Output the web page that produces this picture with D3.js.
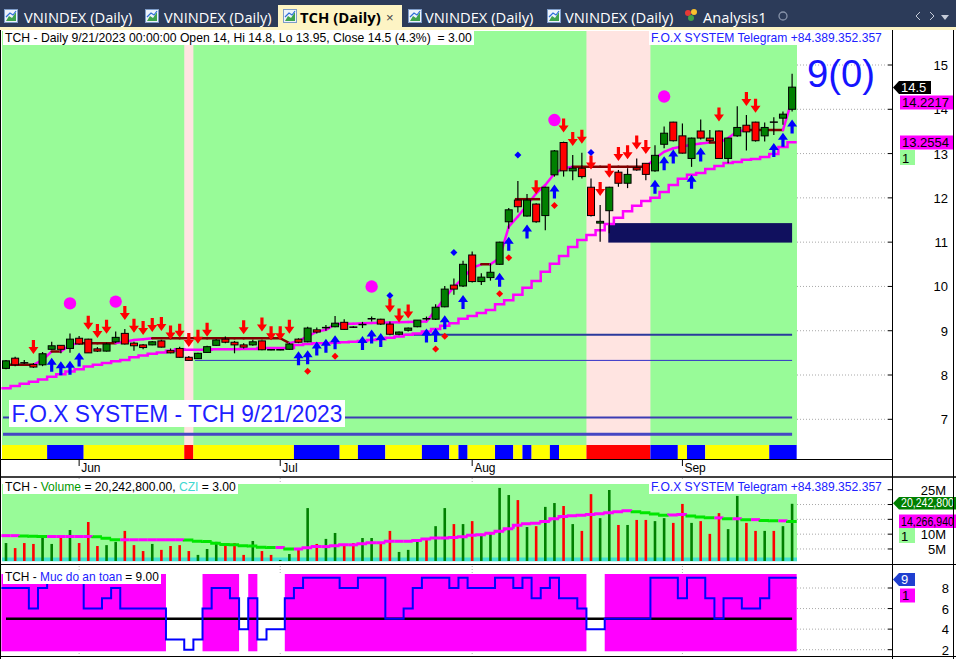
<!DOCTYPE html>
<html>
<head>
<meta charset="utf-8">
<title>TCH Daily</title>
<script src="https://cdn.jsdelivr.net/npm/d3@7/dist/d3.min.js"></script>
<style>
  body { margin: 0; background: #fff; overflow: hidden; }
  svg { display: block; font-family: "Liberation Sans", Arial, sans-serif; }
  text { white-space: pre; }
</style>
</head>
<body>
<script>
// ---- price data (TCH daily, 22 May - 21 Sep 2023) ----
var open = [
  8.15, 8.38, 8.28, 8.24, 8.23, 8.58, 8.67, 8.60, 8.83, 8.81,
  8.59, 8.54, 8.75, 8.94, 8.72, 8.68, 8.68, 8.77, 8.55, 8.60,
  8.40, 8.37, 8.51, 8.67, 8.81, 8.74, 8.68, 8.68, 8.77, 8.575,
  8.57, 8.58, 8.81, 8.75, 9.02, 9.07, 9.09, 9.19, 9.085, 9.14,
  9.27, 9.26, 9.15, 8.92, 9.01, 9.09, 9.275, 9.26, 9.54, 10.03,
  10.01, 10.71, 10.11, 10.20, 10.50, 11.46, 11.95, 11.59, 11.86, 11.60,
  12.52, 13.25, 12.61, 12.67, 12.24, 11.43, 11.71, 12.58, 12.33, 12.68,
  12.78, 12.61, 13.21, 13.71, 13.40, 12.89, 13.51, 13.35, 13.51, 12.89,
  13.40, 13.64, 13.71, 13.40, 13.715, 13.80, 14.00];
var high = [
  8.34, 8.41, 8.34, 8.27, 8.52, 8.75, 8.68, 8.94, 8.88, 8.82,
  8.63, 8.73, 8.98, 9.04, 8.75, 8.70, 8.77, 8.79, 8.60, 8.64,
  8.43, 8.50, 8.66, 8.81, 8.87, 8.77, 8.72, 8.79, 8.78, 8.58,
  8.58, 8.73, 8.83, 9.09, 9.07, 9.13, 9.33, 9.26, 9.10, 9.20,
  9.32, 9.27, 9.21, 8.98, 9.07, 9.24, 9.32, 9.60, 10.01, 10.18,
  10.58, 10.79, 10.30, 10.52, 11.01, 11.77, 12.38, 12.09, 11.88, 12.25,
  13.08, 13.27, 12.97, 13.02, 12.44, 11.84, 12.25, 12.63, 12.67, 12.89,
  12.79, 13.19, 13.61, 13.72, 13.68, 13.36, 13.77, 13.53, 13.52, 13.36,
  14.07, 13.87, 13.72, 13.70, 13.82, 13.95, 14.80];
var low = [
  8.13, 8.20, 8.25, 8.16, 8.20, 8.57, 8.49, 8.50, 8.69, 8.50,
  8.52, 8.53, 8.72, 8.69, 8.55, 8.58, 8.67, 8.62, 8.49, 8.39,
  8.32, 8.36, 8.50, 8.66, 8.72, 8.49, 8.60, 8.66, 8.56, 8.56,
  8.56, 8.57, 8.72, 8.74, 8.94, 9.00, 9.08, 9.02, 9.06, 9.06,
  9.21, 9.13, 8.90, 8.90, 8.98, 9.08, 9.23, 9.24, 9.53, 9.81,
  9.99, 10.09, 10.03, 10.13, 10.49, 11.30, 11.67, 11.58, 11.44, 11.27,
  12.48, 12.48, 12.40, 12.44, 11.58, 11.01, 11.20, 12.25, 12.22, 12.61,
  12.40, 12.59, 13.12, 13.27, 13.00, 12.70, 13.32, 13.26, 12.88, 12.78,
  13.38, 13.07, 13.27, 13.27, 13.42, 13.65, 13.95];
var close = [
  8.32, 8.23, 8.275, 8.18, 8.48, 8.66, 8.58, 8.81, 8.70, 8.50,
  8.54, 8.70, 8.85, 8.70, 8.66, 8.62, 8.75, 8.63, 8.50, 8.40,
  8.33, 8.49, 8.64, 8.79, 8.74, 8.68, 8.63, 8.75, 8.57, 8.57,
  8.57, 8.70, 8.74, 9.06, 8.97, 9.07, 9.17, 9.03, 9.08, 9.14,
  9.27, 9.15, 8.92, 8.97, 9.06, 9.24, 9.27, 9.53, 9.94, 9.94,
  10.50, 10.11, 10.21, 10.32, 11.00, 11.73, 11.80, 11.95, 11.46, 12.24,
  13.06, 12.61, 12.67, 12.48, 11.60, 11.47, 12.24, 12.33, 12.53, 12.63,
  12.53, 12.96, 13.46, 13.29, 13.01, 13.35, 13.35, 13.29, 12.89, 13.35,
  13.59, 13.49, 13.29, 13.59, 13.71, 13.89, 14.50];

// volume, millions of shares, and its moving average
var volume = [
  7.0, 5.3, 7.0, 6.7, 9.7, 6.7, 9.4, 11.4, 7.0, 14.1,
  6.0, 6.3, 7.4, 11.1, 6.3, 4.3, 6.7, 4.7, 6.0, 6.3,
  4.3, 3.0, 5.0, 7.4, 6.3, 7.0, 3.0, 7.7, 4.3, 3.0,
  1.3, 3.3, 4.7, 18.8, 6.7, 8.4, 10.4, 6.7, 7.0, 8.7,
  8.7, 7.0, 11.1, 4.0, 4.7, 7.7, 8.7, 12.7, 18.8, 13.4,
  13.4, 14.4, 10.1, 10.7, 25.6, 23.2, 21.5, 12.4, 12.7, 19.2,
  20.5, 19.5, 13.4, 11.1, 23.5, 15.4, 24.9, 13.1, 13.1, 14.8,
  14.8, 14.4, 15.4, 13.8, 20.2, 13.8, 14.4, 10.1, 17.1, 11.7,
  22.9, 13.8, 11.1, 11.1, 11.1, 12.7, 20.2428];
var volMA = [
  9.5, 9.5, 9.4, 9.3, 9.2, 9.2, 9.2, 9.2, 9.2, 9.2,
  9.1, 8.6, 8.1, 8.1, 8.1, 8.1, 8.1, 8.1, 8.1, 8.1,
  8.0, 7.6, 7.5, 6.9, 6.5, 6.4, 6.1, 6.0, 5.6, 5.5,
  5.5, 5.0, 5.0, 5.4, 5.8, 5.8, 6.1, 6.4, 6.4, 6.8,
  7.1, 7.1, 7.6, 7.6, 7.6, 7.9, 8.4, 8.7, 8.7, 8.9,
  9.1, 9.6, 9.8, 10.3, 11.0, 11.8, 13.0, 13.5, 13.7, 14.3,
  15.2, 16.0, 16.2, 16.4, 16.6, 16.9, 17.2, 17.6, 17.9, 17.6,
  17.2, 16.8, 16.4, 16.5, 16.6, 16.1, 15.8, 15.5, 15.5, 15.2,
  15.2, 14.9, 14.9, 14.6, 14.5, 14.5, 14.26694];

// trailing lines of the system
var trail = [
  8.23, 8.23, 8.23, 8.23, 8.34, 8.53, 8.53, 8.68, 8.72, 8.72,
  8.72, 8.72, 8.72, 8.75, 8.79, 8.81, 8.83, 8.83, 8.83, 8.83,
  8.83, 8.83, 8.83, 8.83, 8.83, 8.83, 8.83, 8.83, 8.83, 8.83,
  8.83, 8.72, 8.77, 8.87, 8.98, 9.02, 9.15, 9.155, 9.16, 9.17,
  9.175, 9.18, 9.185, 9.19, 9.195, 9.2, 9.21, 9.47, 9.74, 9.99,
  10.19, 10.42, 10.5, 10.5, 10.64, 11.35, 11.58, 11.84, 12.1, 12.29,
  12.55, 12.67, 12.7, 12.7, 12.7, 12.7, 12.7, 12.7, 12.7, 12.7,
  12.7, 12.89, 13.04, 13.12, 13.16, 13.2, 13.23, 13.25, 13.25, 13.35,
  13.5, 13.53, 13.53, 13.53, 13.53, 13.53, 14.2217];
var support = [
  7.70, 7.75, 7.80, 7.85, 7.90, 7.96, 8.02, 8.08, 8.13, 8.19,
  8.23, 8.27, 8.31, 8.34, 8.40, 8.44, 8.48, 8.51, 8.55, 8.58,
  8.57, 8.57, 8.57, 8.58, 8.58, 8.58, 8.59, 8.59, 8.61, 8.61,
  8.61, 8.61, 8.68, 8.70, 8.72, 8.72, 8.73, 8.74, 8.75, 8.77,
  8.79, 8.81, 8.84, 8.87, 8.91, 8.94, 8.98, 9.04, 9.11, 9.17,
  9.27, 9.33, 9.40, 9.47, 9.60, 9.69, 9.81, 9.97, 10.12, 10.33,
  10.51, 10.69, 10.89, 11.05, 11.16, 11.27, 11.41, 11.55, 11.70, 11.82,
  11.93, 12.00, 12.13, 12.29, 12.43, 12.52, 12.56, 12.65, 12.72, 12.79,
  12.81, 12.86, 12.88, 12.92, 12.99, 13.15, 13.2554];

// "Muc do an toan" (safety level)
var safety = [
  8, 8, 8, 6, 8, 9, 9, 9, 9, 6,
  6, 7, 8, 6, 6, 6, 6, 6, 3, 3,
  2, 3, 6, 8, 8, 7, 4, 7, 3, 4,
  4, 7, 8, 9, 9, 9, 9, 8, 8, 9,
  9, 9, 5, 5, 6, 8, 9, 9, 9, 8,
  9, 8, 8, 8, 9, 9, 8, 9, 7, 8,
  9, 7, 7, 6, 4, 4, 5, 5, 5, 5,
  5, 9, 9, 9, 7, 9, 9, 7, 5, 7,
  7, 6, 6, 7, 9, 9, 9];
var safetyLevel = 5;

// signal strip under the price pane: runs of [state, bars]
var stripRuns = [["Y",5],["B",4],["Y",11],["R",1],["Y",11],["B",5],["Y",2],["B",3],["Y",4],["B",3],
  ["Y",1],["B",1],["Y",3],["B",2],["Y",1],["B",1],["Y",2],["B",1],["Y",3],["R",7],["B",3],["Y",1],
  ["B",2],["Y",7],["B",3]];
var pinkRanges = [[20, 20], [64, 70]];

// signals (bar indexes)
var sellBars = [3, 9, 10, 11, 13, 14, 15, 16, 17, 18, 19, 20, 21, 22, 26, 28, 29, 30, 31, 42, 43, 44,
  58, 61, 62, 63, 64, 65, 66, 67, 68, 69, 70, 78, 81, 82];
var buyBars = [5, 6, 7, 8, 32, 33, 34, 35, 36, 39, 40, 41, 46, 47, 48, 50, 54, 55, 57, 60, 71, 72, 73,
  75, 76, 84, 85, 86];
var dotBars = [7, 12, 40, 60, 72];
var redDiamondBars = [33, 36, 47, 48, 54, 55, 60];
var blueDiamondBars = [42, 49, 56, 64];

// horizontal levels
var levelPrice = [8.91, 8.33, 7.04, 6.66];
var levelFrom = [44, 21, 0, 0];
var resistFrom = [56], resistTo = [58], resistPrice = [11.97];
var zoneFrom = 66, zoneLow = 10.99, zoneHigh = 11.43;

var priceTicks = [7, 8, 9, 10, 11, 12, 13, 14, 15];
var volTicks = [5, 10, 15, 20, 25];
var safetyTicks = [2, 4, 6, 8];
var monthNames = ["Jun", "Jul", "Aug", "Sep"];
var monthBar = [8, 30, 51, 74];

// ---- layout ----
var W = 956, H = 659;
var plotL = 2, plotR = 797, axisX = 893;
var n = close.length;

var x = d3.scaleLinear().domain([0, n - 1]).range([6, 792.1]);
var step = x(1) - x(0);
var y = d3.scaleLinear().domain([7, 15]).range([419.3, 65]);
var yv = d3.scaleLinear().domain([0, 25]).range([563.8, 489.7]);
var ys = d3.scaleLinear().domain([2, 8]).range([649.7, 588]);

var GREEN_BG = "#98fb98", PINK_BG = "#ffe4e1", MAG = "#ff00ff", BROWN = "#800000";

var svg = d3.select("body").append("svg").attr("width", W).attr("height", H);
svg.append("rect").attr("width", W).attr("height", H).attr("fill", "#fff");

function fitText(g, parts, x0, yb, width, size, weight) {
  var t = g.append("text").attr("font-size", size).attr("font-weight", weight || null);
  if (typeof parts === "string") parts = [[parts, "#000"]];
  parts.forEach(function(p) { t.append("tspan").attr("fill", p[1]).text(p[0]); });
  var w = t.node().getComputedTextLength();
  t.attr("transform", "translate(" + x0 + "," + yb + ") scale(" + (width / w) + ",1)");
  return t;
}

// ---- tab bar ----
var tabsG = svg.append("g");
tabsG.append("rect").attr("width", W).attr("height", 29).attr("fill", "#2c3b59");
tabsG.append("rect").attr("y", 27).attr("width", W).attr("height", 3).attr("fill", "#fdf4c4");
tabsG.append("rect").attr("x", 278).attr("y", 5).attr("width", 124).attr("height", 24).attr("fill", "#fdf4c4");
var tabLabels = ["VNINDEX (Daily)", "VNINDEX (Daily)", "TCH (Daily)", "VNINDEX (Daily)", "VNINDEX (Daily)"];
var tabIconX = [4, 145, 283, 408, 547];
var tabTextX = [24, 164, 300, 425, 565];
var tabTextW = [112, 111, 80, 112, 112];
tabLabels.forEach(function(lbl, i) {
  var ix = tabIconX[i];
  tabsG.append("rect").attr("x", ix + 0.5).attr("y", 9.5).attr("width", 13).attr("height", 13)
    .attr("fill", "#eef3fb").attr("stroke", "#7d9cc9");
  tabsG.append("path").attr("d", "M" + (ix + 2) + ",21 L" + (ix + 5) + ",16 L" + (ix + 8) + ",18 L" + (ix + 12) + ",12 L" + (ix + 12) + ",21 Z")
    .attr("fill", "#3fa34d");
  tabsG.append("path").attr("d", "M" + (ix + 2) + ",17 L" + (ix + 6) + ",13 L" + (ix + 9) + ",15 L" + (ix + 12) + ",11")
    .attr("fill", "none").attr("stroke", "#2f6fd6").attr("stroke-width", 1.2);
  var sel = i === 2;
  var t = fitText(tabsG, [[lbl, sel ? "#000" : "#ffffff"]], tabTextX[i], 23, tabTextW[i], 15, sel ? "bold" : null);
  t.style("font-family", "'Open Sans', 'DejaVu Sans', sans-serif");
});
tabsG.append("text").attr("x", 386).attr("y", 22).attr("font-size", 13).attr("fill", "#444").text("×");
// Analysis1 tab
[["#e53935", 688, 13], ["#fbc02d", 694, 12], ["#43a047", 691, 18]].forEach(function(c) {
  tabsG.append("circle").attr("cx", c[1]).attr("cy", c[2]).attr("r", 3).attr("fill", c[0]);
});
fitText(tabsG, [["Analysis1", "#ffffff"]], 703, 23, 63, 15).style("font-family", "'Open Sans', 'DejaVu Sans', sans-serif");
tabsG.append("circle").attr("cx", 783).attr("cy", 16).attr("r", 4).attr("fill", "none").attr("stroke", "#8793aa").attr("stroke-width", 1.3);
tabsG.append("path").attr("d", "M920,12 L916,16 L920,20").attr("fill", "none").attr("stroke", "#c5cbd8");
tabsG.append("path").attr("d", "M930,12 L934,16 L930,20").attr("fill", "none").attr("stroke", "#c5cbd8");
tabsG.append("path").attr("d", "M941,15 L949,15 L945,20 Z").attr("fill", "#c5cbd8");

// ---- price pane ----
var main = svg.append("g");
var mainTop = 31, mainBot = 445, stripBot = 459;

priceTicks.forEach(function(p) {
  main.append("line").attr("x1", plotL).attr("x2", axisX - 5).attr("y1", y(p)).attr("y2", y(p))
    .attr("stroke", "#a8a8a8").attr("stroke-dasharray", "1,2");
  main.append("line").attr("x1", axisX - 5).attr("x2", axisX).attr("y1", y(p)).attr("y2", y(p)).attr("stroke", "#000");
  main.append("text").attr("x", 948).attr("y", y(p) + 5).attr("text-anchor", "end")
    .attr("font-size", 13).attr("fill", "#000").text(p);
});

main.append("rect").attr("x", plotL).attr("y", mainTop).attr("width", plotR - plotL)
  .attr("height", mainBot - mainTop).attr("fill", GREEN_BG);
pinkRanges.forEach(function(r) {
  main.append("rect").attr("x", x(r[0]) - step / 2).attr("y", mainTop)
    .attr("width", x(r[1]) - x(r[0]) + step).attr("height", mainBot - mainTop).attr("fill", PINK_BG);
});

// signal strip
var stripColor = { Y: "#ffff00", B: "#0000ff", R: "#ff0000" };
var bi = 0;
stripRuns.forEach(function(r) {
  var x0 = bi === 0 ? plotL : x(bi) - step / 2;
  var x1 = x(bi + r[1] - 1) + step / 2;
  main.append("rect").attr("x", x0).attr("y", mainBot).attr("width", x1 - x0)
    .attr("height", stripBot - mainBot).attr("fill", stripColor[r[0]]);
  bi += r[1];
});

// horizontal levels
var levelW = [2, 1, 2, 3];
var levelC = ["#2b3a9c", "#3232c8", "#3c3cb4", "#4646c3"];
levelPrice.forEach(function(p, i) {
  main.append("line").attr("x1", x(levelFrom[i]) - 3).attr("x2", x(n - 1))
    .attr("y1", y(p)).attr("y2", y(p)).attr("stroke", levelC[i]).attr("stroke-width", levelW[i]);
});

// zone
main.append("rect").attr("x", x(zoneFrom) - 1).attr("y", y(zoneHigh))
  .attr("width", x(n - 1) - x(zoneFrom) + 1).attr("height", y(zoneLow) - y(zoneHigh)).attr("fill", "#10105e");

// lower staircase support
var supPts = [];
support.forEach(function(v, i) { supPts.push([x(i) - step / 2, y(v)], [x(i) + step / 2, y(v)]); });
main.append("path").attr("d", d3.line()(supPts)).attr("fill", "none").attr("stroke", MAG).attr("stroke-width", 2.5);

// trailing line, coloured by direction
for (var i = 1; i < n; i++) {
  main.append("line").attr("x1", x(i - 1)).attr("x2", x(i)).attr("y1", y(trail[i - 1])).attr("y2", y(trail[i]))
    .attr("stroke", trail[i] > trail[i - 1] ? MAG : BROWN).attr("stroke-width", 2.5).attr("stroke-linecap", "round");
}
resistPrice.forEach(function(p, k) {
  main.append("line").attr("x1", x(resistFrom[k]) - 3).attr("x2", x(resistTo[k]) + 4)
    .attr("y1", y(p)).attr("y2", y(p)).attr("stroke", BROWN).attr("stroke-width", 2.5);
});

// candles
var candles = main.selectAll("g.candle").data(d3.range(n)).enter().append("g");
candles.append("line")
  .attr("x1", function(i) { return x(i); }).attr("x2", function(i) { return x(i); })
  .attr("y1", function(i) { return y(high[i]); }).attr("y2", function(i) { return y(low[i]); })
  .attr("stroke", "#000").attr("stroke-width", 1.2);
candles.each(function(i) {
  var g = d3.select(this);
  if (Math.abs(open[i] - close[i]) < 0.01) {
    g.append("line").attr("x1", x(i) - 4).attr("x2", x(i) + 4).attr("y1", y(close[i])).attr("y2", y(close[i]))
      .attr("stroke", "#000").attr("stroke-width", 1.5);
  } else {
    var top = y(Math.max(open[i], close[i])), bot = y(Math.min(open[i], close[i]));
    g.append("rect").attr("x", x(i) - 3.5).attr("y", top).attr("width", 7).attr("height", bot - top)
      .attr("fill", close[i] > open[i] ? "#008000" : "#ff0000").attr("stroke", "#000").attr("stroke-width", 1);
  }
});

// signal arrows
function arrowPath(cx, tip, dir) {
  // dir = 1 pointing down, -1 pointing up
  var h = 7 * dir, s = 14 * dir;
  return "M" + cx + "," + tip + " L" + (cx - 5) + "," + (tip - h) + " L" + (cx - 1.6) + "," + (tip - h) +
    " L" + (cx - 1.6) + "," + (tip - s) + " L" + (cx + 1.6) + "," + (tip - s) + " L" + (cx + 1.6) + "," + (tip - h) +
    " L" + (cx + 5) + "," + (tip - h) + " Z";
}
main.selectAll("path.sell").data(sellBars).enter().append("path")
  .attr("d", function(i) { return arrowPath(x(i), y(high[i]) - 9, 1); }).attr("fill", "#ff0000");
main.selectAll("path.buy").data(buyBars).enter().append("path")
  .attr("d", function(i) { return arrowPath(x(i), y(low[i]) + 8, -1); }).attr("fill", "#0000ff");
main.selectAll("circle.dot").data(dotBars).enter().append("circle")
  .attr("cx", function(i) { return x(i); }).attr("cy", function(i) { return y(high[i]) - 30; })
  .attr("r", 6.2).attr("fill", MAG);
function diamond(cx, cy) {
  return "M" + cx + "," + (cy - 3.5) + " L" + (cx + 3.5) + "," + cy + " L" + cx + "," + (cy + 3.5) + " L" + (cx - 3.5) + "," + cy + " Z";
}
main.selectAll("path.rd").data(redDiamondBars).enter().append("path")
  .attr("d", function(i) { return diamond(x(i), y(low[i]) + 29); }).attr("fill", "#ff0000");
main.selectAll("path.bd").data(blueDiamondBars).enter().append("path")
  .attr("d", function(i) { return diamond(x(i), y(high[i]) - 26); }).attr("fill", "#0000ff");

// texts in price pane
main.append("rect").attr("x", 3).attr("y", 31).attr("width", 471).attr("height", 14).attr("fill", "#fff");
fitText(main, "TCH - Daily 9/21/2023 00:00:00 Open 14, Hi 14.8, Lo 13.95, Close 14.5 (4.3%)  = 3.00", 5, 42, 467, 12);
main.append("rect").attr("x", 649).attr("y", 31).attr("width", 236).attr("height", 14).attr("fill", "#fff");
fitText(main, [["F.O.X SYSTEM Telegram +84.389.352.357", "#2020ff"]], 651, 42, 231, 12);
fitText(main, [["9(0)", "#1414ff"]], 807, 86.5, 68, 39);
main.append("rect").attr("x", 9).attr("y", 400).attr("width", 336).attr("height", 27).attr("fill", "#fff");
fitText(main, [["F.O.X SYSTEM - TCH 9/21/2023", "#1f1fff"]], 11.5, 421.5, 331, 23);

// value tags on the axes
function tagBox(g, x0, x1, y0, y1, fill, txt, tcol, pointer, fitW) {
  var d = pointer
    ? "M" + x0 + "," + ((y0 + y1) / 2) + " L" + (x0 + 6) + "," + y0 + " L" + x1 + "," + y0 + " L" + x1 + "," + y1 + " L" + (x0 + 6) + "," + y1 + " Z"
    : "M" + x0 + "," + y0 + " H" + x1 + " V" + y1 + " H" + x0 + " Z";
  g.append("path").attr("d", d).attr("fill", fill);
  var tx = x0 + (pointer ? 8 : 2);
  if (fitW) fitText(g, [[txt, tcol]], tx, y1 - 2.5, fitW, 13);
  else g.append("text").attr("x", tx).attr("y", y1 - 2.5).attr("font-size", 13).attr("fill", tcol).text(txt);
}
tagBox(main, 893, 931, 81, 94, "#000", close[n - 1].toFixed(1), "#fff", true);
tagBox(main, 900, 953, 95.5, 109.5, MAG, trail[n - 1].toFixed(4), "#000", false);
tagBox(main, 900, 953, 135.5, 149.5, MAG, support[n - 1].toFixed(4), "#000", false);
tagBox(main, 900, 915, 150, 165, GREEN_BG, "1", "#000", false);

// date axis
svg.append("line").attr("x1", 0).attr("x2", axisX).attr("y1", 459.5).attr("y2", 459.5).attr("stroke", "#000");
monthNames.forEach(function(m, k) {
  var mx = x(monthBar[k]);
  svg.append("line").attr("x1", mx).attr("x2", mx).attr("y1", 460).attr("y2", 466).attr("stroke", "#000");
  svg.append("text").attr("x", mx + 2).attr("y", 472).attr("font-size", 12).attr("fill", "#000").text(m);
});
svg.append("line").attr("x1", 0).attr("x2", W).attr("y1", 477).attr("y2", 477).attr("stroke", "#000").attr("stroke-width", 1.5);

// ---- volume pane ----
var vp = svg.append("g");
var vTop = 484, vBot = 561;
monthBar.forEach(function(b) {
  vp.append("line").attr("x1", x(b)).attr("x2", x(b)).attr("y1", 478).attr("y2", vBot)
    .attr("stroke", "#b0b0b0").attr("stroke-dasharray", "1,2");
});
var volLast = volume[n - 1];
volTicks.forEach(function(v) {
  vp.append("line").attr("x1", plotL).attr("x2", axisX - 5).attr("y1", yv(v)).attr("y2", yv(v))
    .attr("stroke", "#a8a8a8").attr("stroke-dasharray", "1,2");
  vp.append("line").attr("x1", axisX - 5).attr("x2", axisX).attr("y1", yv(v)).attr("y2", yv(v)).attr("stroke", "#000");
  // the label under the last-volume tag is covered in the original
  if (Math.abs(v - volLast) > 1.5) {
    vp.append("text").attr("x", 946).attr("y", yv(v) + 5).attr("text-anchor", "end")
      .attr("font-size", 13).attr("fill", "#000").text(v + "M");
  }
});
vp.append("rect").attr("x", plotL).attr("y", vTop).attr("width", plotR - plotL).attr("height", vBot - vTop).attr("fill", GREEN_BG);
vp.append("rect").attr("x", plotL).attr("y", 557.5).attr("width", plotR - plotL).attr("height", 3.8).attr("fill", "#40e0d0");
vp.selectAll("rect.vol").data(d3.range(n)).enter().append("rect")
  .attr("x", function(i) { return x(i) - 1.3; }).attr("width", 2.6)
  .attr("y", function(i) { return yv(volume[i]); })
  .attr("height", function(i) { return vBot - yv(volume[i]); })
  .attr("fill", function(i) { return close[i] >= open[i] ? "#008000" : "#ff0000"; });
for (var j = 0; j < n; j++) {
  var prev = j === 0 ? volMA[0] : volMA[j - 1];
  vp.append("path")
    .attr("d", "M" + (x(j) - step / 2) + "," + yv(prev) + " V" + yv(volMA[j]) + " H" + (x(j) + step / 2))
    .attr("fill", "none").attr("stroke", volMA[j] >= prev ? MAG : "#00e600").attr("stroke-width", 3);
}
vp.append("rect").attr("x", 3).attr("y", 480).attr("width", 235).attr("height", 14).attr("fill", "#fff");
fitText(vp, [["TCH - ", "#000"], ["Volume", "#009900"], [" = 20,242,800.00, ", "#000"], ["CZI", "#40d8d0"], [" = 3.00", "#000"]], 5, 491, 231, 12);
vp.append("rect").attr("x", 649).attr("y", 480).attr("width", 236).attr("height", 14).attr("fill", "#fff");
fitText(vp, [["F.O.X SYSTEM Telegram +84.389.352.357", "#2020ff"]], 651, 491, 231, 12);
tagBox(vp, 893, 956, 497, 509.5, "#008000", d3.format(",")(Math.round(volLast * 1e6)), "#fff", true, 53);
tagBox(vp, 899, 956, 514.5, 528, MAG, d3.format(",")(Math.round(volMA[n - 1] * 1e6)), "#000", false, 53);
tagBox(vp, 899, 915, 528, 543, GREEN_BG, "1", "#000", false);
svg.append("line").attr("x1", 0).attr("x2", W).attr("y1", 564.5).attr("y2", 564.5).attr("stroke", "#000");

// ---- safety pane ----
var sp = svg.append("g");
var sTop = 574, sBot = 651.3;
monthBar.forEach(function(b) {
  sp.append("line").attr("x1", x(b)).attr("x2", x(b)).attr("y1", 566).attr("y2", 656)
    .attr("stroke", "#b0b0b0").attr("stroke-dasharray", "1,2");
});
safetyTicks.forEach(function(v) {
  sp.append("line").attr("x1", plotL).attr("x2", axisX - 5).attr("y1", ys(v)).attr("y2", ys(v))
    .attr("stroke", "#a8a8a8").attr("stroke-dasharray", "1,2");
  sp.append("line").attr("x1", axisX - 5).attr("x2", axisX).attr("y1", ys(v)).attr("y2", ys(v)).attr("stroke", "#000");
  sp.append("text").attr("x", 949).attr("y", ys(v) + 5).attr("text-anchor", "end")
    .attr("font-size", 13).attr("fill", "#000").text(v);
});
sp.append("rect").attr("x", plotL).attr("y", sTop).attr("width", plotR - plotL).attr("height", sBot - sTop).attr("fill", "#fff");
var runStart = -1;
for (var k = 0; k <= n; k++) {
  var on = k < n && safety[k] >= safetyLevel;
  if (on && runStart < 0) runStart = k;
  if (!on && runStart >= 0) {
    sp.append("rect").attr("x", x(runStart) - step / 2).attr("y", sTop)
      .attr("width", x(k - 1) - x(runStart) + step).attr("height", sBot - sTop).attr("fill", MAG);
    runStart = -1;
  }
}
sp.append("line").attr("x1", x(0)).attr("x2", x(n - 1)).attr("y1", ys(safetyLevel)).attr("y2", ys(safetyLevel))
  .attr("stroke", "#000").attr("stroke-width", 2.5);
var sPts = [];
safety.forEach(function(v, i) { sPts.push([x(i) - step / 2, ys(v)], [x(i) + step / 2, ys(v)]); });
sp.append("path").attr("d", d3.line()(sPts)).attr("fill", "none").attr("stroke", "#0000ff").attr("stroke-width", 2);
sp.append("rect").attr("x", 3).attr("y", 570).attr("width", 158).attr("height", 14).attr("fill", "#fff");
fitText(sp, [["TCH - ", "#000"], ["Muc do an toan", "#1a1aff"], [" = 9.00", "#000"]], 5, 581, 154, 12);
tagBox(sp, 893, 915, 573, 586, "#1f3fd0", String(safety[n - 1]), "#fff", true);
tagBox(sp, 900, 915, 588.5, 602.5, MAG, "1", "#000", false);
svg.append("line").attr("x1", 0).attr("x2", W).attr("y1", 656.5).attr("y2", 656.5).attr("stroke", "#000");

// frame
svg.append("line").attr("x1", axisX - 0.5).attr("x2", axisX - 0.5).attr("y1", 30).attr("y2", H).attr("stroke", "#000");
svg.append("line").attr("x1", 953.5).attr("x2", 953.5).attr("y1", 30).attr("y2", H).attr("stroke", "#000");
svg.append("line").attr("x1", 0.5).attr("x2", 0.5).attr("y1", 30).attr("y2", H).attr("stroke", "#000");
</script>
</body>
</html>
